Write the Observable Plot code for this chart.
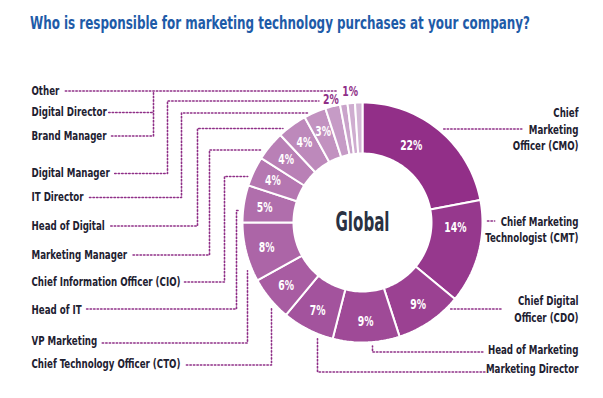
<!DOCTYPE html>
<html><head><meta charset="utf-8">
<script src="https://cdn.jsdelivr.net/npm/d3@7"></script>
<script src="https://cdn.jsdelivr.net/npm/@observablehq/plot@0.6"></script>
<style>
html,body{margin:0;padding:0;background:#fff;}
body{width:603px;height:398px;overflow:hidden;}
#title{position:relative;height:40px;}
#title span{position:absolute;left:30px;top:14px;white-space:nowrap;font-weight:bold;font-size:18px;line-height:18px;color:#1e5ba8;transform-origin:0 0;}
#chart svg{display:block;}
</style></head><body>
<div id="title"><span id="tt"></span></div>
<div id="chart"></div>
<script>
// ---------- data ----------
const chartTitle = "Who is responsible for marketing technology purchases at your company?";
const centerLabel = "Global";
const roles = ["Chief Marketing Officer (CMO)", "Chief Marketing Technologist (CMT)", "Chief Digital Officer (CDO)", "Head of Marketing", "Marketing Director", "Chief Technology Officer (CTO)", "VP Marketing", "Head of IT", "Chief Information Officer (CIO)", "Marketing Manager", "Head of Digital", "IT Director", "Digital Manager", "Brand Manager", "Digital Director", "Other"];
const shares = [22, 14, 9, 9, 7, 6, 8, 5, 4, 4, 4, 3, 2, 1, 1, 1];
const roleLabels = ["Chief\nMarketing\nOfficer (CMO)", "Chief Marketing\nTechnologist (CMT)", "Chief Digital\nOfficer (CDO)", "Head of Marketing", "Marketing Director", "Chief Technology Officer (CTO)", "VP Marketing", "Head of IT", "Chief Information Officer (CIO)", "Marketing Manager", "Head of Digital", "IT Director", "Digital Manager", "Brand Manager", "Digital Director", "Other"];

// ---------- layout / style ----------
const FONT = '"Liberation Sans Narrow","DejaVu Sans Condensed","Liberation Sans",Arial,sans-serif';
const cx = 362, cy = 222, R = 120, R0 = 69, PCT_R = 99, OUT_R = 129;
const LEFT_X = 31, RIGHT_X = 578, LINE_H = 16.5, LBL_SIZE = 12.5, PCT_SIZE = 14.5;
const purple = "#8f2f87", ink = "#1e2131";
const palette = roles.map((_, i) => d3.interpolateRgb("#922f88", "#d3b6d5")(i / (roles.length - 1)));
const pctOverride = {"Chief Marketing Officer (CMO)": {f: 0.09, r: 91}, "Chief Marketing Technologist (CMT)": {f: 0.258, r: 93}};
const layout = {
  "Chief Marketing Officer (CMO)": {side: "R", ly: 129, hy: 128.5, gapIn: 6, gapOut: 7},
  "Chief Marketing Technologist (CMT)": {side: "R", ly: 229.5, hy: 220.5, gapIn: 5, gapOut: 6},
  "Chief Digital Officer (CDO)": {side: "R", ly: 309.2, hy: 308.5, gapIn: 5, gapOut: 17},
  "Head of Marketing": {side: "R", ly: 349.5, lineY: 351.5, ex: 372, gapIn: 4, gapOut: 5},
  "Marketing Director": {side: "R", ly: 368.5, lineY: 371.5, ex: 317, gapIn: 5, gapOut: 1},
  "Chief Technology Officer (CTO)": {side: "L", ly: 363.5, lineY: 364.5, ex: 271, gapIn: 7, gapOut: 6},
  "VP Marketing": {side: "L", ly: 340.5, lineY: 342.5, ex: 247, gapIn: 14, gapOut: 5},
  "Head of IT": {side: "L", ly: 309.5, lineY: 308.5, ex: 236, hy: 210, gapIn: 3, gapOut: 5},
  "Chief Information Officer (CIO)": {side: "L", ly: 281.5, lineY: 281.5, ex: 224, hy: 176, gapIn: 4, gapOut: 4},
  "Marketing Manager": {side: "L", ly: 254, lineY: 254.5, ex: 209, hy: 149.5, gapIn: 6, gapOut: 6},
  "Head of Digital": {side: "L", ly: 225, lineY: 225.5, ex: 197, hy: 128, gapIn: 5, gapOut: 6},
  "IT Director": {side: "L", ly: 196.7, lineY: 197, ex: 181, hy: 112.5, gapIn: 6, gapOut: 6},
  "Digital Manager": {side: "L", ly: 172.7, lineY: 173, ex: 167, hy: 100.5, toPct: 12, gapOut: 5},
  "Brand Manager": {side: "L", ly: 135, lineY: 135.5, ex: 153, hy: 112, join: true, gapOut: 5},
  "Digital Director": {side: "L", ly: 111.7, lineY: 112, ex: 153, hy: 90.5, join: true, gapOut: 2},
  "Other": {side: "L", ly: 90, lineY: 90.5, ex: 153, hy: 90.5, toPct: 14, gapOut: 6}
};

// ---------- measuring ----------
const ctx = document.createElement("canvas").getContext("2d");
function measure(s, size) { ctx.font = `bold ${size}px ${FONT}`; return ctx.measureText(s).width; }
const K_LBL = 149 / measure("Chief Information Officer (CIO)", LBL_SIZE);
const K_PCT = 23 / measure("22%", 15);
const K_GLOB = 54 / measure("Global", 26);
const K_TITLE = 500 / measure(chartTitle, 18);

// title
const tt = document.getElementById("tt");
tt.textContent = chartTitle;
tt.style.fontFamily = FONT;
tt.style.transform = `scaleX(${K_TITLE})`;

// ---------- geometry ----------
const total = d3.sum(shares);
let acc = 0;
const slices = roles.map((role, i) => {
  const f0 = acc / total; acc += shares[i]; const f1 = acc / total;
  return {role, share: shares[i], f0, f1, i};
});
const pt = (f, r) => [cx + r * Math.sin(f * 2 * Math.PI), cy - r * Math.cos(f * 2 * Math.PI)];
const sliceRows = [];
for (const s of slices) {
  const n = Math.max(3, Math.ceil((s.f1 - s.f0) * 200));
  const ring = [];
  for (let k = 0; k <= n; k++) ring.push(pt(s.f0 + (s.f1 - s.f0) * k / n, R));
  for (let k = n; k >= 0; k--) ring.push(pt(s.f0 + (s.f1 - s.f0) * k / n, R0));
  ring.push(ring[0]);
  ring.forEach(([x, y]) => sliceRows.push({role: s.role, x, y}));
}

// percent labels
const pctIn = [], pctOut = [];
for (const s of slices) {
  if (s.share >= 3) {
    const o = pctOverride[s.role];
    const [x, y] = o ? pt(o.f, o.r) : pt((s.f0 + s.f1) / 2, PCT_R);
    pctIn.push({x, y, text: s.share + "%"});
  }
}
const s2 = slices.find(s => s.share === 2);
const ones = slices.filter(s => s.share === 1);
const mid1 = ones[Math.floor(ones.length / 2)];
const p2 = pt((s2.f0 + s2.f1) / 2, OUT_R - 2), p1 = pt((mid1.f0 + mid1.f1) / 2, OUT_R + 3);
pctOut.push({x: p2[0], y: p2[1], text: "2%"});
pctOut.push({x: p1[0], y: p1[1], text: "1%"});

// label rows (right-hand labels are right-aligned by starting them at RIGHT_X - width)
const labelRows = [];
roles.forEach((role, i) => {
  const L = layout[role];
  const lines = roleLabels[i].split("\n");
  lines.forEach((t, j) => {
    const y = L.ly + (j - (lines.length - 1) / 2) * LINE_H;
    const w = measure(t, LBL_SIZE) * K_LBL;
    labelRows.push({role, text: t, y, w, side: L.side, x: L.side === "L" ? LEFT_X : RIGHT_X - w});
  });
});

// leaders
const ringXL = y => cx - Math.sqrt(R * R - (y - cy) ** 2);
const ringXR = y => cx + Math.sqrt(R * R - (y - cy) ** 2);
const ringYB = x => cy + Math.sqrt(R * R - (x - cx) ** 2);
const leaderRows = [];
roles.forEach((role, i) => {
  const L = layout[role];
  const rows = labelRows.filter(r => r.role === role);
  let pts;
  if (L.side === "R") {
    if (L.hy !== undefined) {
      const row = rows.reduce((a, b) => Math.abs(b.y - L.hy) < Math.abs(a.y - L.hy) ? b : a);
      pts = [[ringXR(L.hy) + L.gapIn, L.hy], [row.x - L.gapOut, L.hy]];
    } else {
      const row = rows[0];
      pts = [[row.x - L.gapOut, L.lineY], [L.ex, L.lineY], [L.ex, ringYB(L.ex) + L.gapIn]];
    }
  } else {
    const row = rows[0];
    const xs = LEFT_X + row.w + L.gapOut;
    if (L.hy !== undefined) {
      pts = [[xs, L.lineY], [L.ex, L.lineY], [L.ex, L.hy]];
      if (!L.join) {
        let endX;
        if (L.toPct) {
          const target = shares[i] === 2 ? p2 : p1;
          endX = target[0] - L.toPct;
        } else endX = ringXL(L.hy) - L.gapIn;
        pts.push([endX, L.hy]);
      }
    } else {
      pts = [[xs, L.lineY], [L.ex, L.lineY], [L.ex, ringYB(L.ex) + L.gapIn]];
    }
  }
  pts.forEach(([x, y]) => leaderRows.push({role, x, y}));
});

// ---------- plot ----------
const chart = Plot.plot({
  width: 603, height: 358, margin: 0,
  x: {domain: [0, 603], range: [0, 603], axis: null},
  y: {domain: [40, 398], range: [0, 358], axis: null},
  color: {type: "ordinal", domain: roles, range: palette},
  style: {fontFamily: FONT, background: "white"},
  marks: [
    Plot.line(sliceRows, {x: "x", y: "y", z: "role", fill: "role", stroke: "white", strokeWidth: 2, strokeLinejoin: "miter", curve: "linear"}),
    Plot.line(leaderRows, {x: "x", y: "y", z: "role", stroke: purple, strokeWidth: 1.6, strokeDasharray: "1.4 2.1", curve: "linear"}),
    Plot.text(pctIn, {x: "x", y: "y", text: "text", fill: "white", fontSize: PCT_SIZE, fontWeight: "bold", className: "pct"}),
    Plot.text(pctOut, {x: "x", y: "y", text: "text", fill: purple, fontSize: PCT_SIZE, fontWeight: "bold", className: "pct"}),
    Plot.text([centerLabel], {x: () => cx, y: () => cy, text: d => d, fill: "#2a3142", fontSize: 26, fontWeight: "bold", className: "glob"}),
    Plot.text(labelRows, {x: "x", y: "y", text: "text", textAnchor: "start", fill: ink, fontSize: LBL_SIZE, fontWeight: "bold", className: "lbl"})
  ]
});
document.getElementById("chart").appendChild(chart);

// condense text like the original's condensed typeface
function condense(sel, k) {
  chart.querySelectorAll(sel).forEach(t => {
    const len = t.getComputedTextLength();
    t.setAttribute("textLength", (len * k).toFixed(2));
    t.setAttribute("lengthAdjust", "spacingAndGlyphs");
  });
}
condense(".lbl text", K_LBL);
condense(".pct text", K_PCT);
condense(".glob text", K_GLOB);
</script>
</body></html>
